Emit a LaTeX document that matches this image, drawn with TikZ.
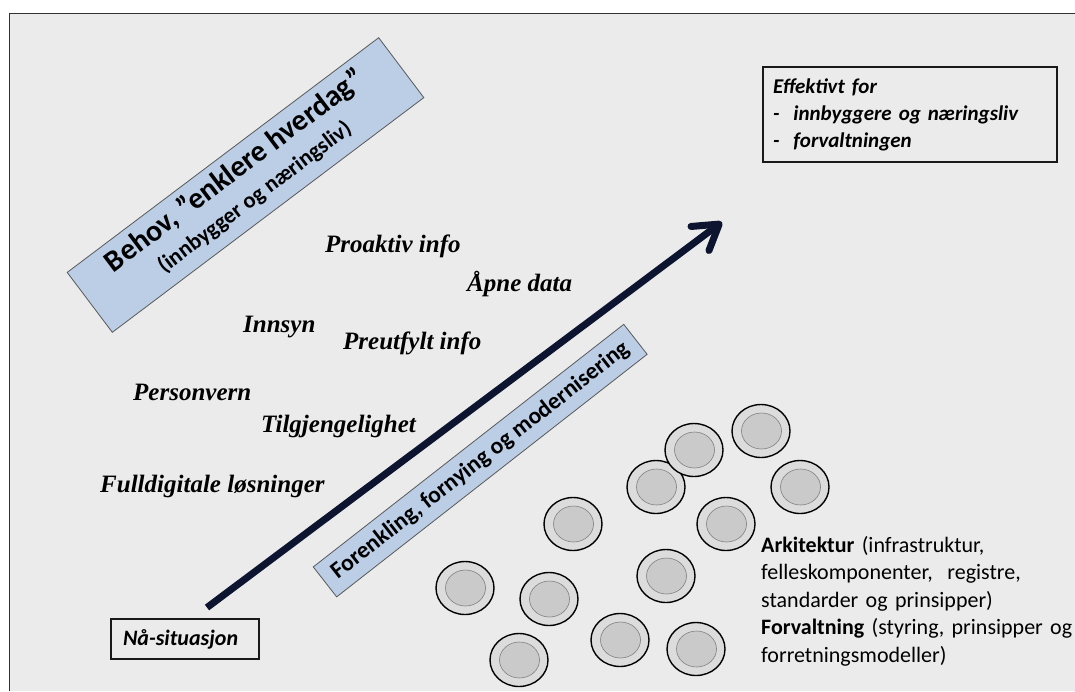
\documentclass[tikz,border=0pt]{standalone}
\usepackage{fontspec}
\setmainfont{Liberation Serif}
\newfontfamily\calibri{Carlito}
\usetikzlibrary{arrows.meta,shapes.geometric}

\definecolor{panel}{RGB}{234,235,234}
\definecolor{boxblue}{RGB}{187,206,230}
\definecolor{navy}{RGB}{12,20,48}
\definecolor{framegray}{RGB}{51,51,51}
\definecolor{ringlight}{RGB}{220,220,220}
\definecolor{ringmid}{RGB}{178,178,178}
\definecolor{ringdark}{RGB}{100,100,100}
\definecolor{diskgray}{RGB}{202,202,202}

\pgfdeclareradialshading{diskring}{\pgfpointorigin}{%
  color(0bp)=(ringlight); color(33bp)=(ringlight);
  color(40bp)=(ringmid); color(50bp)=(ringdark)}

\tikzset{
  bluebox/.style={draw=black!65, line width=0.8pt, fill=boxblue, inner sep=0pt},
  plainbox/.style={draw=black!90, line width=1.4pt, fill=panel},
  keyword/.style={anchor=base west, inner sep=0pt,
    font=\bfseries\itshape\fontsize{25}{25}\selectfont},
  disk/.style={ellipse, draw=black, line width=1.4pt, minimum width=58pt,
    minimum height=53pt, inner sep=0pt, shading=diskring, shade},
  diskface/.style={ellipse, draw=black!50, line width=0.6pt, fill=diskgray,
    minimum width=40pt, minimum height=36pt, inner sep=0pt},
}

\begin{document}
\begin{tikzpicture}[x=1pt,y=-1pt]
\useasboundingbox (0,0) rectangle (1075,691);

% slide panel
\fill[panel] (9,13) rectangle (1075,691);
\draw[framegray, line width=1pt] (9,691) -- (9,13) -- (1075,13);

% needs banner
\node[bluebox, minimum width=390pt, minimum height=75pt, rotate=37] (behov) at (245.5,185) {};
\node[rotate=37, anchor=base, inner sep=0pt,
      font=\calibri\bfseries\fontsize{30}{30}\selectfont] (behovtitle) at (240.1,177.8)
      {Behov, ”enklere hverdag”};
\node[rotate=37, anchor=base, inner sep=0pt,
      font=\calibri\bfseries\fontsize{22.5}{22.5}\selectfont] (behovsub) at (258.7,202.6)
      {(innbygger og næringsliv)};

% goal box
\node[plainbox, minimum width=294pt, minimum height=95pt, text width=274pt,
      inner xsep=10pt, align=left,
      font=\calibri\bfseries\itshape\fontsize{21}{27}\selectfont] (effektivt) at (910,114.5)
      {Effektivt for\\-~ innbyggere og næringsliv\\-~ forvaltningen};

% needs keywords
\node[keyword] (proaktiv) at (325,252) {Proaktiv info};
\node[keyword] (apne) at (467,291) {Åpne data};
\node[keyword] (innsyn) at (243,332) {Innsyn};
\node[keyword] (preutfylt) at (343,349) {Preutfylt info};
\node[keyword] (personvern) at (133,400) {Personvern};
\node[keyword] (tilgjengelighet) at (261,432) {Tilgjengelighet};
\node[keyword] (fulldigitale) at (100,492) {Fulldigitale løsninger};

% development arrow
\coordinate (arrowtail) at (207,607.5);
\coordinate (arrowhead) at (722,222);
\draw[navy, line width=7pt,
      -{Straight Barb[length=24pt, width=30pt, line cap=round, line join=round]}]
      (arrowtail) -- (arrowhead);

% simplification banner
\node[bluebox, minimum width=394pt, minimum height=38pt, rotate=38,
      font=\calibri\bfseries\fontsize{23.5}{23.5}\selectfont] (forenkling) at (480.2,460.6)
      {Forenkling, fornying og modernisering};

% starting point
\node[plainbox, minimum width=148pt, minimum height=40pt, text width=124pt,
      inner xsep=12pt, align=left,
      font=\calibri\bfseries\itshape\fontsize{22}{22}\selectfont] (naa) at (185,639)
      {Nå-situasjon};

% building blocks
\foreach \i/\x/\y in {1/761/431, 3/656/487, 2/694/450, 4/800/487, 5/573/524,
                      6/726/524, 7/666/576, 8/465/588, 9/549/599, 10/620/640,
                      11/696/649, 12/519/660} {
  \node[disk] (disk\i) at (\x,\y) {};
  \node[diskface] (face\i) at (\x+0.5,\y) {};
}

% architecture and governance note
\node[anchor=north west, inner sep=0pt, text width=330pt, align=left,
      font=\calibri\fontsize{22}{27.5}\selectfont] (arkitektur) at (761,536)
      {\textbf{Arkitektur} (infrastruktur,\\
       felleskomponenter,\ \ registre,\\
       standarder og prinsipper)\\
       \textbf{Forvaltning} (styring, prinsipper og\\
       forretningsmodeller)};
\end{tikzpicture}
\end{document}
